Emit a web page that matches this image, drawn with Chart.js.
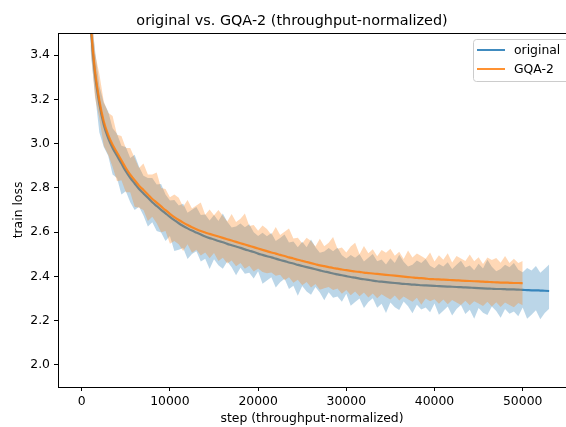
<!DOCTYPE html>
<html>
<head>
<meta charset="utf-8">
<script src="https://cdn.jsdelivr.net/npm/chart.js@4.4.1/dist/chart.umd.min.js"></script>
<style>
  html, body { margin: 0; padding: 0; background: #fff; }
</style>
</head>
<body>
<canvas id="myChart" width="566" height="427"></canvas>
<script>
// x positions (training step, throughput-normalized), every 500 steps
const steps = [1000, 1500, 2000, 2500, 3000, 3500, 4000, 4500, 5000, 5500,
  6000, 6500, 7000, 7500, 8000, 8500, 9000, 9500, 10000, 10500,
  11000, 11500, 12000, 12500, 13000, 13500, 14000, 14500, 15000, 15500,
  16000, 16500, 17000, 17500, 18000, 18500, 19000, 19500, 20000, 20500,
  21000, 21500, 22000, 22500, 23000, 23500, 24000, 24500, 25000, 25500,
  26000, 26500, 27000, 27500, 28000, 28500, 29000, 29500, 30000, 30500,
  31000, 31500, 32000, 32500, 33000, 33500, 34000, 34500, 35000, 35500,
  36000, 36500, 37000, 37500, 38000, 38500, 39000, 39500, 40000, 40500,
  41000, 41500, 42000, 42500, 43000, 43500, 44000, 44500, 45000, 45500,
  46000, 46500, 47000, 47500, 48000, 48500, 49000, 49500, 50000, 50500,
  51000, 51500, 52000, 52500, 53000];

// original: smoothed loss and the envelope of the raw loss
const origMean = [3.53, 3.315, 3.18, 3.085, 3.025, 2.98, 2.945, 2.91, 2.875, 2.845,
  2.82, 2.795, 2.775, 2.755, 2.735, 2.718, 2.701, 2.685, 2.669, 2.654,
  2.64, 2.628, 2.617, 2.607, 2.598, 2.589, 2.58, 2.573, 2.567, 2.56,
  2.554, 2.547, 2.541, 2.535, 2.529, 2.522, 2.516, 2.51, 2.503, 2.497,
  2.491, 2.486, 2.48, 2.474, 2.469, 2.463, 2.458, 2.452, 2.447, 2.442,
  2.437, 2.432, 2.427, 2.422, 2.418, 2.413, 2.409, 2.405, 2.401, 2.397,
  2.394, 2.39, 2.387, 2.384, 2.381, 2.378, 2.376, 2.374, 2.372, 2.37,
  2.368, 2.366, 2.365, 2.363, 2.362, 2.36, 2.359, 2.358, 2.357, 2.356,
  2.355, 2.354, 2.353, 2.352, 2.351, 2.35, 2.349, 2.348, 2.347, 2.346,
  2.345, 2.344, 2.343, 2.343, 2.342, 2.341, 2.341, 2.34, 2.339, 2.338,
  2.337, 2.337, 2.336, 2.335, 2.334];
const origHigh = [3.62, 3.425, 3.26, 3.185, 3.145, 3.07, 3.045, 2.99, 2.985, 2.935,
  2.95, 2.895, 2.855, 2.845, 2.845, 2.815, 2.818, 2.77, 2.743, 2.745,
  2.72, 2.728, 2.688, 2.701, 2.714, 2.677, 2.68, 2.653, 2.677, 2.65,
  2.684, 2.647, 2.621, 2.625, 2.639, 2.622, 2.636, 2.60, 2.583, 2.597,
  2.581, 2.596, 2.56, 2.574, 2.589, 2.553, 2.558, 2.532, 2.557, 2.532,
  2.567, 2.532, 2.507, 2.512, 2.528, 2.513, 2.529, 2.495, 2.481, 2.497,
  2.484, 2.50, 2.467, 2.484, 2.501, 2.468, 2.476, 2.454, 2.482, 2.46,
  2.498, 2.466, 2.445, 2.453, 2.472, 2.46, 2.479, 2.448, 2.437, 2.456,
  2.445, 2.464, 2.433, 2.452, 2.471, 2.44, 2.449, 2.428, 2.457, 2.436,
  2.475, 2.444, 2.423, 2.433, 2.452, 2.441, 2.461, 2.43, 2.419, 2.438,
  2.427, 2.447, 2.416, 2.435, 2.454];
const origLow = [3.42, 3.225, 3.05, 2.985, 2.945, 2.86, 2.845, 2.77, 2.785, 2.735,
  2.70, 2.715, 2.675, 2.625, 2.645, 2.605, 2.598, 2.56, 2.583, 2.515,
  2.52, 2.528, 2.478, 2.501, 2.514, 2.467, 2.48, 2.433, 2.477, 2.45,
  2.434, 2.467, 2.441, 2.405, 2.439, 2.412, 2.416, 2.39, 2.423, 2.367,
  2.381, 2.396, 2.35, 2.374, 2.389, 2.343, 2.358, 2.312, 2.357, 2.332,
  2.317, 2.352, 2.327, 2.292, 2.328, 2.303, 2.309, 2.285, 2.321, 2.267,
  2.284, 2.30, 2.257, 2.284, 2.301, 2.258, 2.276, 2.234, 2.282, 2.26,
  2.248, 2.286, 2.265, 2.233, 2.272, 2.25, 2.259, 2.238, 2.277, 2.226,
  2.245, 2.264, 2.223, 2.252, 2.271, 2.23, 2.249, 2.208, 2.257, 2.236,
  2.225, 2.264, 2.243, 2.213, 2.252, 2.231, 2.241, 2.22, 2.259, 2.208,
  2.227, 2.247, 2.206, 2.235, 2.254];

// GQA-2 (stops at step 50000)
const gqaMean = [3.54, 3.33, 3.195, 3.10, 3.04, 2.995, 2.96, 2.925, 2.89, 2.86,
  2.835, 2.81, 2.79, 2.77, 2.75, 2.733, 2.716, 2.699, 2.683, 2.668,
  2.655, 2.643, 2.632, 2.622, 2.613, 2.605, 2.598, 2.592, 2.586, 2.58,
  2.574, 2.568, 2.562, 2.556, 2.55, 2.544, 2.538, 2.532, 2.526, 2.52,
  2.514, 2.508, 2.503, 2.497, 2.492, 2.486, 2.481, 2.475, 2.47, 2.465,
  2.46, 2.455, 2.45, 2.446, 2.442, 2.438, 2.435, 2.431, 2.428, 2.425,
  2.422, 2.42, 2.417, 2.415, 2.413, 2.411, 2.409, 2.407, 2.405, 2.403,
  2.401, 2.399, 2.397, 2.395, 2.393, 2.392, 2.39, 2.388, 2.387, 2.386,
  2.385, 2.384, 2.383, 2.382, 2.381, 2.38, 2.379, 2.378, 2.377, 2.376,
  2.375, 2.374, 2.373, 2.372, 2.372, 2.371, 2.37, 2.37, 2.369];
const gqaHigh = [3.65, 3.41, 3.315, 3.19, 3.14, 3.125, 3.04, 3.035, 2.98, 2.98,
  2.935, 2.89, 2.91, 2.86, 2.86, 2.87, 2.80, 2.795, 2.758, 2.77,
  2.755, 2.715, 2.745, 2.707, 2.72, 2.734, 2.678, 2.702, 2.676, 2.70,
  2.674, 2.648, 2.682, 2.646, 2.66, 2.684, 2.628, 2.632, 2.606, 2.63,
  2.614, 2.588, 2.623, 2.587, 2.602, 2.616, 2.571, 2.575, 2.55, 2.575,
  2.56, 2.535, 2.57, 2.536, 2.552, 2.578, 2.525, 2.531, 2.508, 2.535,
  2.552, 2.50, 2.537, 2.505, 2.523, 2.491, 2.519, 2.507, 2.525, 2.493,
  2.511, 2.479, 2.517, 2.485, 2.503, 2.492, 2.48, 2.508, 2.467, 2.496,
  2.475, 2.504, 2.463, 2.492, 2.481, 2.47, 2.499, 2.468, 2.487, 2.456,
  2.485, 2.474, 2.483, 2.462, 2.492, 2.461, 2.48, 2.46, 2.469];
const gqaLow = [3.44, 3.21, 3.115, 2.99, 2.95, 2.895, 2.83, 2.835, 2.78, 2.78,
  2.715, 2.71, 2.70, 2.65, 2.67, 2.64, 2.60, 2.605, 2.548, 2.56,
  2.545, 2.515, 2.545, 2.507, 2.52, 2.494, 2.508, 2.482, 2.506, 2.47,
  2.484, 2.458, 2.472, 2.446, 2.46, 2.434, 2.448, 2.422, 2.436, 2.42,
  2.414, 2.418, 2.403, 2.407, 2.382, 2.396, 2.371, 2.385, 2.36, 2.375,
  2.35, 2.365, 2.34, 2.346, 2.352, 2.338, 2.345, 2.321, 2.338, 2.315,
  2.332, 2.31, 2.327, 2.305, 2.323, 2.301, 2.319, 2.307, 2.295, 2.313,
  2.291, 2.309, 2.297, 2.285, 2.303, 2.272, 2.30, 2.288, 2.297, 2.276,
  2.295, 2.274, 2.293, 2.282, 2.271, 2.29, 2.269, 2.288, 2.277, 2.266,
  2.285, 2.264, 2.283, 2.262, 2.282, 2.271, 2.26, 2.28, 2.269];

const xTicks = [0, 10000, 20000, 30000, 40000, 50000];
const yTicks = [2.0, 2.2, 2.4, 2.6, 2.8, 3.0, 3.2, 3.4];

const BLUE = 'rgba(31, 119, 180, 0.85)';
const ORANGE = 'rgba(255, 127, 14, 0.85)';
const FONT = "'DejaVu Sans', sans-serif";

const pts = (ys) => ys.map((y, i) => ({x: steps[i], y: y}));

function band(ys, color, fill, order) {
  return {data: pts(ys), borderWidth: 0, pointRadius: 0, backgroundColor: color,
    fill: fill, order: order};
}
function line(ys, color, order) {
  return {data: pts(ys), borderColor: color, borderWidth: 2.2, pointRadius: 0,
    cubicInterpolationMode: 'monotone', fill: false, order: order};
}

const decor = {
  id: 'decor',
  afterDraw(chart) {
    const c = chart.ctx, a = chart.chartArea;
    c.save();
    // top spine
    c.strokeStyle = '#000';
    c.lineWidth = 1;
    c.beginPath();
    c.moveTo(a.left, a.top + 0.5);
    c.lineTo(566, a.top + 0.5);
    c.stroke();
    // title
    c.fillStyle = '#000';
    c.font = '14.4px ' + FONT;
    c.textAlign = 'center';
    c.textBaseline = 'middle';
    c.fillText('original vs. GQA-2 (throughput-normalized)', 292, 21);
    // legend
    const lx = 473.5, ly = 39.5, lw = 100, lh = 42, r = 3;
    c.beginPath();
    c.moveTo(lx + r, ly);
    c.lineTo(lx + lw - r, ly);
    c.arcTo(lx + lw, ly, lx + lw, ly + r, r);
    c.lineTo(lx + lw, ly + lh - r);
    c.arcTo(lx + lw, ly + lh, lx + lw - r, ly + lh, r);
    c.lineTo(lx + r, ly + lh);
    c.arcTo(lx, ly + lh, lx, ly + lh - r, r);
    c.lineTo(lx, ly + r);
    c.arcTo(lx, ly, lx + r, ly, r);
    c.closePath();
    c.fillStyle = 'rgba(255,255,255,0.8)';
    c.fill();
    c.strokeStyle = '#cccccc';
    c.stroke();
    const items = [['original', BLUE, 50], ['GQA-2', ORANGE, 69]];
    c.font = '12.4px ' + FONT;
    c.textAlign = 'left';
    for (const [label, col, y] of items) {
      c.strokeStyle = col;
      c.lineWidth = 2;
      c.beginPath();
      c.moveTo(477, y);
      c.lineTo(505, y);
      c.stroke();
      c.fillStyle = '#000';
      c.fillText(label, 514, y + 0.5);
    }
    c.restore();
  }
};

const ctx = document.getElementById('myChart').getContext('2d');
const myChart = new Chart(ctx, {
  type: 'line',
  data: {
    datasets: [
      band(origHigh, 'rgba(31, 119, 180, 0.3)', '+1', 6),
      band(origLow, 'rgba(0,0,0,0)', false, 5),
      line(origMean, BLUE, 4),
      band(gqaHigh, 'rgba(255, 127, 14, 0.3)', '+1', 3),
      band(gqaLow, 'rgba(0,0,0,0)', false, 2),
      line(gqaMean, ORANGE, 1)
    ]
  },
  options: {
    responsive: false,
    animation: false,
    events: [],
    layout: {padding: {top: 33, left: 0, right: 0, bottom: 0}},
    plugins: {
      legend: {display: false},
      title: {display: false},
      tooltip: {enabled: false}
    },
    scales: {
      x: {
        type: 'linear',
        min: -2690,
        max: 54910,
        afterFit: (s) => { s.height = 40; },
        afterBuildTicks: (s) => { s.ticks = xTicks.map(v => ({value: v})); },
        ticks: {
          color: '#000',
          font: {family: FONT, size: 12.4},
          padding: 3,
          maxRotation: 0,
          callback: (v) => String(v)
        },
        grid: {display: true, drawOnChartArea: false, drawTicks: true, tickLength: 4, color: '#000'},
        border: {display: true, color: '#000', width: 1},
        title: {
          display: true,
          text: 'step (throughput-normalized)',
          color: '#000',
          font: {family: FONT, size: 12.4},
          padding: {top: 0, bottom: 1}
        }
      },
      y: {
        type: 'linear',
        min: 1.9,
        max: 3.5,
        afterFit: (s) => { s.width = 58; },
        afterBuildTicks: (s) => { s.ticks = yTicks.map(v => ({value: v})); },
        ticks: {
          color: '#000',
          font: {family: FONT, size: 12.4},
          padding: 4,
          callback: (v) => v.toFixed(1)
        },
        grid: {display: true, drawOnChartArea: false, drawTicks: true, tickLength: 4, color: '#000'},
        border: {display: true, color: '#000', width: 1},
        title: {
          display: true,
          text: 'train loss',
          color: '#000',
          font: {family: FONT, size: 12.4},
          padding: {top: 11, bottom: 0}
        }
      }
    }
  },
  plugins: [decor]
});
</script>
</body>
</html>
